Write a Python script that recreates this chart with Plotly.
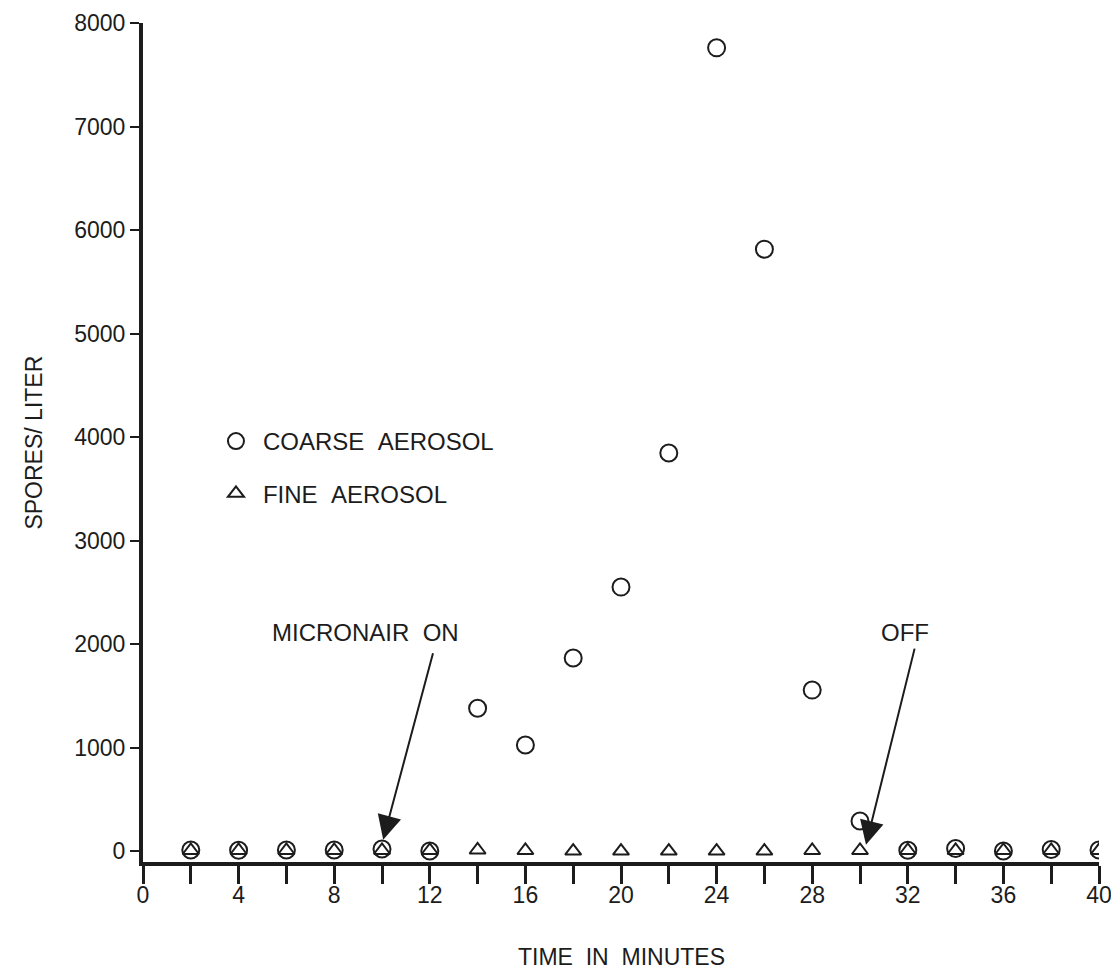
import plotly.graph_objects as go

# ---- data ----
time_min = [2, 4, 6, 8, 10, 12, 14, 16, 18, 20, 22, 24, 26, 28, 30, 32, 34, 36, 38, 40]
coarse = [10, 8, 10, 10, 20, 0, 1380, 1025, 1865, 2550, 3845, 7760, 5815, 1555, 290,
          8, 25, 0, 15, 10]
fine = [5, 5, 5, 5, 5, 5, 10, 5, 0, 0, 0, 0, 0, 5, 5, 5, 5, 5, 5, 5]

x_tickvals = list(range(0, 42, 2))
x_ticktext = [str(v) if v % 4 == 0 else "" for v in x_tickvals]
y_tickvals = [0, 1000, 2000, 3000, 4000, 5000, 6000, 7000, 8000]

SP = "\u00a0\u00a0"  # wide word gap as in the lettering of the original
series_names = ["COARSE" + SP + "AEROSOL", "FINE" + SP + "AEROSOL"]
x_title = "TIME" + SP + "IN" + SP + "MINUTES"
y_title = "SPORES/ LITER"

# annotation anchors (data units): text centre, arrow head, arrow tail
on_label = ("MICRONAIR" + SP + "ON", 9.3, 2110)
on_head, on_tail = (10.05, 110), (12.15, 1925)
off_label = ("OFF", 31.9, 2110)
off_head, off_tail = (30.25, 60), (32.3, 1970)

INK = "#1c1c1c"
FONT = "Liberation Sans, Arial, Helvetica, sans-serif"

fig = go.Figure()
fig.add_trace(go.Scatter(
    x=time_min, y=coarse, mode="markers", name=series_names[0],
    legendgroup="c",
    marker=dict(symbol="circle-open", size=17, color=INK, line=dict(width=2, color=INK)),
))
fig.add_trace(go.Scatter(
    x=time_min, y=fine, mode="markers", name=series_names[1],
    legendgroup="f",
    marker=dict(symbol="triangle-up-open", size=14, color=INK, line=dict(width=2, color=INK)),
))

for (txt, tx, ty) in (on_label, off_label):
    fig.add_annotation(x=tx, y=ty, xref="x", yref="y", text=txt, showarrow=False,
                       font=dict(family=FONT, size=24, color=INK))
for head, tail in ((on_head, on_tail), (off_head, off_tail)):
    fig.add_annotation(x=head[0], y=head[1], ax=tail[0], ay=tail[1],
                       xref="x", yref="y", axref="x", ayref="y", text="",
                       showarrow=True, arrowhead=2, arrowsize=2.4, arrowwidth=2,
                       arrowcolor=INK, standoff=0)

# axis titles
fig.add_annotation(x=0.5, y=-0.1135, xref="paper", yref="paper", text=x_title,
                   showarrow=False, font=dict(family=FONT, size=23, color=INK),
                   xanchor="center", yanchor="middle")
fig.add_annotation(x=-0.115, y=0.5, xref="paper", yref="paper", text=y_title,
                   textangle=-90, showarrow=False,
                   font=dict(family=FONT, size=23, color=INK),
                   xanchor="center", yanchor="middle")

# extension of the y axis line below the x axis
fig.add_shape(type="line", xref="x", yref="paper", x0=0, x1=0, y0=0, y1=-0.013,
              line=dict(color=INK, width=4))

# page body has an 8px margin: size the figure so the plot lands where the original is
fig.update_layout(
    width=1111, height=967,
    margin=dict(l=135, r=20, t=15, b=113, autoexpand=False),
    paper_bgcolor="white", plot_bgcolor="white",
    font=dict(family=FONT, size=23, color=INK),
    showlegend=True,
    legend=dict(x=0.069, y=0.528, xanchor="left", yanchor="top",
                bgcolor="rgba(0,0,0,0)", font=dict(size=24, family=FONT, color=INK),
                tracegroupgap=18, itemwidth=44),
    xaxis=dict(range=[0, 40], tickvals=x_tickvals, ticktext=x_ticktext,
               ticks="outside", ticklen=18, tickwidth=2.5, tickcolor=INK,
               showline=True, linewidth=4, linecolor=INK, showgrid=False, zeroline=False,
               tickfont=dict(size=23), automargin=False, ticklabelstandoff=-9),
    yaxis=dict(range=[-106, 8000], tickvals=y_tickvals,
               ticks="outside", ticklen=9, tickwidth=2, tickcolor=INK,
               showline=True, linewidth=4, linecolor=INK, showgrid=False, zeroline=False,
               tickfont=dict(size=23), automargin=False),
)

fig.write_html("out.html")
